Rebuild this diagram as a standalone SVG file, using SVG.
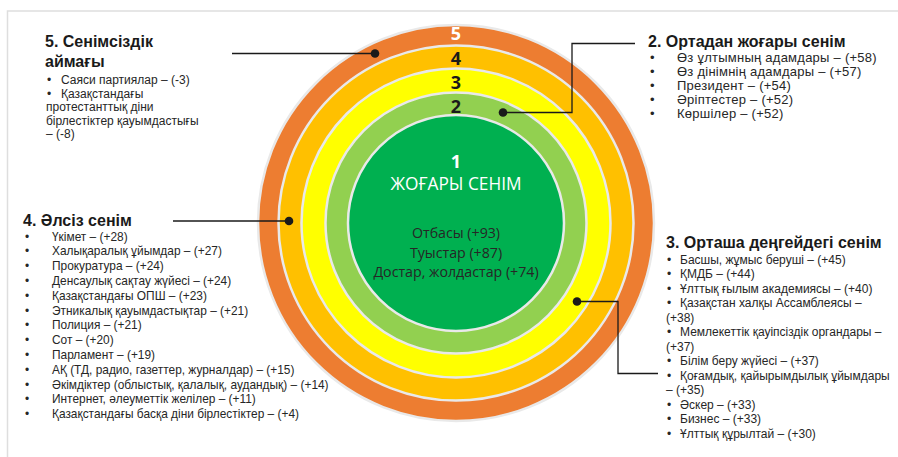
<svg xmlns="http://www.w3.org/2000/svg" width="898" height="457" viewBox="0 0 898 457">
<style>
.title{font-family:"Liberation Sans",Arial,sans-serif;font-weight:bold;font-size:16px;fill:#1a1a1a}
.li{font-family:"Liberation Sans",Arial,sans-serif;font-size:11.9px;fill:#262626}
.li1{font-family:"Liberation Sans",Arial,sans-serif;font-size:12px;fill:#262626}
.li2{font-family:"Liberation Sans",Arial,sans-serif;font-size:13px;letter-spacing:0.25px;fill:#262626}
.li3{font-family:"Liberation Sans",Arial,sans-serif;font-size:12px;fill:#262626}
.num{font-family:"Open Sans","Noto Sans",sans-serif;font-weight:bold;font-size:18px;text-anchor:middle;fill:#1a1a1a}
.ctr{font-family:"Open Sans","Noto Sans",sans-serif;text-anchor:middle}
.ring{stroke:#e9e9e9;stroke-width:2.5}
.conn{fill:none;stroke:#1a1a1a;stroke-width:1.3}
.dot{fill:#1a1a1a}
</style>
<rect x="0" y="0" width="898" height="457" fill="#ffffff"/>
<path d="M7.5 457 V11 H898" fill="none" stroke="#dedede" stroke-width="1.5"/>

<g id="rings">
<circle class="ring" cx="456" cy="223" r="198" fill="#ED7D31"/>
<circle class="ring" cx="456" cy="223" r="177.5" fill="#FFC000"/>
<circle class="ring" cx="456" cy="223" r="154.5" fill="#FFFF00"/>
<circle class="ring" cx="456" cy="223" r="130.5" fill="#92D050"/>
<circle class="ring" cx="456" cy="223" r="108" fill="#00B050"/>
<text class="num" x="456" y="40" style="fill:#ffffff">5</text>
<text class="num" x="456" y="65">4</text>
<text class="num" x="456" y="89">3</text>
<text class="num" x="456" y="113">2</text>
</g>

<g id="node1">
<text class="ctr" x="456" y="168" font-size="18" font-weight="bold" fill="#ffffff">1</text>
<text class="ctr" x="456" y="190" font-size="17.3" fill="#ffffff">ЖОҒАРЫ СЕНІМ</text>
<text class="ctr" x="456" y="238" font-size="14.2" fill="#262626">Отбасы (+93)</text>
<text class="ctr" x="456" y="257.5" font-size="14.2" fill="#262626">Туыстар (+87)</text>
<text class="ctr" x="456" y="277" font-size="14.2" fill="#262626">Достар, жолдастар (+74)</text>
</g>

<g id="connectors">
<path class="conn" d="M232 53.5 H375"/>
<circle class="dot" cx="375" cy="53.5" r="4.3"/>
<path class="conn" d="M503 112.5 H572 V43.5 H635"/>
<circle class="dot" cx="503" cy="112.5" r="4.3"/>
<path class="conn" d="M173 221 H289"/>
<circle class="dot" cx="289" cy="221" r="4.3"/>
<path class="conn" d="M577 301.5 H618 V373.5 H658"/>
<circle class="dot" cx="577" cy="301.5" r="4.3"/>
</g>

<g id="node5">
<text class="title" x="45" y="47">5. Сенімсіздік</text>
<text class="title" x="45" y="67">аймағы</text>
<text class="li1" x="47" y="84">•</text><text class="li1" x="61" y="84">Саяси партиялар – (-3)</text>
<text class="li1" x="47" y="97.5">•</text><text class="li1" x="61" y="97.5">Қазақстандағы</text>
<text class="li1" x="46" y="111">протестанттық діни</text>
<text class="li1" x="46" y="124.5">бірлестіктер қауымдастығы</text>
<text class="li1" x="46" y="138">– (-8)</text>
</g>

<g id="node2">
<text class="title" x="648" y="47">2. Ортадан жоғары сенім</text>
<text class="li2" x="650" y="62">•</text><text class="li2" x="677" y="62">Өз ұлтымның адамдары – (+58)</text>
<text class="li2" x="650" y="75.9">•</text><text class="li2" x="677" y="75.9">Өз дінімнің адамдары – (+57)</text>
<text class="li2" x="650" y="89.8">•</text><text class="li2" x="677" y="89.8">Президент – (+54)</text>
<text class="li2" x="650" y="103.7">•</text><text class="li2" x="677" y="103.7">Әріптестер – (+52)</text>
<text class="li2" x="650" y="117.6">•</text><text class="li2" x="677" y="117.6">Көршілер – (+52)</text>
</g>

<g id="node4">
<text class="title" x="23" y="226">4. Әлсіз сенім</text>
<g class="li">
<text x="25" y="240.5">•</text><text x="52" y="240.5">Үкімет – (+28)</text>
<text x="25" y="255.3">•</text><text x="52" y="255.3">Халықаралық ұйымдар – (+27)</text>
<text x="25" y="270.1">•</text><text x="52" y="270.1">Прокуратура – (+24)</text>
<text x="25" y="284.9">•</text><text x="52" y="284.9">Денсаулық сақтау жүйесі – (+24)</text>
<text x="25" y="299.7">•</text><text x="52" y="299.7">Қазақстандағы ОПШ – (+23)</text>
<text x="25" y="314.5">•</text><text x="52" y="314.5">Этникалық қауымдастықтар – (+21)</text>
<text x="25" y="329.3">•</text><text x="52" y="329.3">Полиция – (+21)</text>
<text x="25" y="344.1">•</text><text x="52" y="344.1">Сот – (+20)</text>
<text x="25" y="358.9">•</text><text x="52" y="358.9">Парламент – (+19)</text>
<text x="25" y="373.7">•</text><text x="52" y="373.7">АҚ (ТД, радио, газеттер, журналдар) – (+15)</text>
<text x="25" y="388.5">•</text><text x="52" y="388.5">Әкімдіктер (облыстық, қалалық, аудандық) – (+14)</text>
<text x="25" y="403.3">•</text><text x="52" y="403.3">Интернет, әлеуметтік желілер – (+11)</text>
<text x="25" y="418.1">•</text><text x="52" y="418.1">Қазақстандағы басқа діни бірлестіктер – (+4)</text>
</g>
</g>

<g id="node3">
<text class="title" x="666" y="248">3. Орташа деңгейдегі сенім</text>
<g class="li3">
<text x="667" y="263.5">•</text><text x="680" y="263.5">Басшы, жұмыс беруші – (+45)</text>
<text x="667" y="278">•</text><text x="680" y="278">ҚМДБ – (+44)</text>
<text x="667" y="292.5">•</text><text x="680" y="292.5">Ұлттық ғылым академиясы – (+40)</text>
<text x="667" y="307">•</text><text x="680" y="307">Қазақстан халқы Ассамблеясы –</text>
<text x="666" y="321.5">(+38)</text>
<text x="667" y="336">•</text><text x="680" y="336">Мемлекеттік қауіпсіздік органдары –</text>
<text x="666" y="350.5">(+37)</text>
<text x="667" y="365">•</text><text x="680" y="365">Білім беру жүйесі – (+37)</text>
<text x="667" y="379.5">•</text><text x="680" y="379.5">Қоғамдық, қайырымдылық ұйымдары</text>
<text x="666" y="394">– (+35)</text>
<text x="667" y="408.5">•</text><text x="680" y="408.5">Әскер – (+33)</text>
<text x="667" y="423">•</text><text x="680" y="423">Бизнес – (+33)</text>
<text x="667" y="437.5">•</text><text x="680" y="437.5">Ұлттық құрылтай – (+30)</text>
</g>
</g>
</svg>
